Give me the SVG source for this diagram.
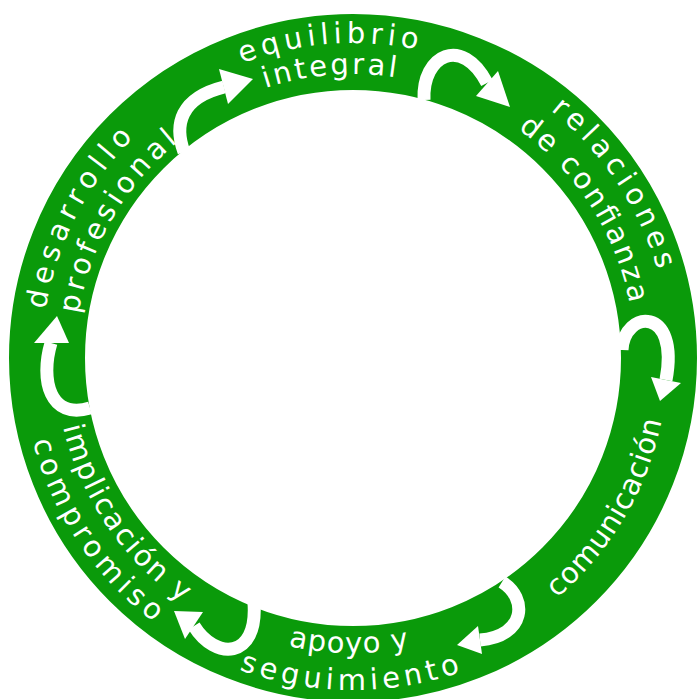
<svg xmlns="http://www.w3.org/2000/svg" width="697" height="699" viewBox="0 0 697 699">
<style>
.ring{fill:none;stroke:#0a9a0a;stroke-width:76}
.lbl{font-family:"DejaVu Sans","Liberation Sans",sans-serif;font-size:29px;fill:#ffffff}
.arr{fill:none;stroke:#ffffff;stroke-width:13;stroke-linecap:butt}
.head{fill:#ffffff}
</style>
<defs>
<path id="p-equilibrio" d="M49.5,273.8 A315,315 0 0 1 639.7,227.4"/>
<path id="p-integral" d="M79.1,283.1 A284,284 0 0 1 611.0,239.3"/>
<path id="p-relaciones" d="M277.4,50.2 A317,317 0 0 1 608.8,545.2"/>
<path id="p-confianza" d="M291.0,82.9 A282,282 0 0 1 577.3,528.9"/>
<path id="p-comunicacion" d="M295.0,667.6 A315,315 0 0 0 596.4,158.1"/>
<path id="p-apoyo" d="M74.3,454.8 A295,295 0 0 0 628.7,463.0"/>
<path id="p-seguimiento" d="M39.9,468.3 A332,332 0 0 0 663.8,474.8"/>
<path id="p-implicacion" d="M111.3,183.7 A298,298 0 0 0 426.1,646.9"/>
<path id="p-compromiso" d="M85.9,162.5 A331,331 0 0 0 431.9,679.4"/>
<path id="p-desarrollo" d="M125.5,570.1 A311,311 0 0 1 390.9,49.3"/>
<path id="p-profesional" d="M140.1,536.7 A278,278 0 0 1 401.3,84.2"/>
</defs>
<rect width="697" height="699" fill="#ffffff"/>
<circle class="ring" cx="353" cy="358" r="306"/>

<g id="equilibrio-integral">
<text class="lbl" text-anchor="middle"><textPath href="#p-equilibrio" startOffset="50%" textLength="178" lengthAdjust="spacing">equilibrio</textPath></text>
<text class="lbl" text-anchor="middle"><textPath href="#p-integral" startOffset="50%" textLength="132" lengthAdjust="spacing">integral</textPath></text>
</g>
<g id="relaciones-de-confianza">
<text class="lbl" text-anchor="middle"><textPath href="#p-relaciones" startOffset="50%" textLength="195" lengthAdjust="spacing">relaciones</textPath></text>
<text class="lbl" text-anchor="middle"><textPath href="#p-confianza" startOffset="50%" textLength="212" lengthAdjust="spacing">de confianza</textPath></text>
</g>
<g id="comunicacion">
<text class="lbl" text-anchor="middle"><textPath href="#p-comunicacion" startOffset="50%" textLength="210" lengthAdjust="spacing">comunicación</textPath></text>
</g>
<g id="apoyo-y-seguimiento">
<text class="lbl" text-anchor="middle"><textPath href="#p-apoyo" startOffset="50%" textLength="122" lengthAdjust="spacing">apoyo y</textPath></text>
<text class="lbl" text-anchor="middle"><textPath href="#p-seguimiento" startOffset="50%" textLength="226" lengthAdjust="spacing">seguimiento</textPath></text>
</g>
<g id="implicacion-y-compromiso">
<text class="lbl" text-anchor="middle"><textPath href="#p-implicacion" startOffset="50%" textLength="217" lengthAdjust="spacing">implicación y</textPath></text>
<text class="lbl" text-anchor="middle"><textPath href="#p-compromiso" startOffset="50%" textLength="222" lengthAdjust="spacing">compromiso</textPath></text>
</g>
<g id="desarrollo-profesional">
<text class="lbl" text-anchor="middle"><textPath href="#p-desarrollo" startOffset="50%" textLength="196" lengthAdjust="spacing">desarrollo</textPath></text>
<text class="lbl" text-anchor="middle"><textPath href="#p-profesional" startOffset="50%" textLength="203" lengthAdjust="spacing">profesional</textPath></text>
</g>

<g id="connectors">
<path class="arr" d="M184,152 C174,125 180,98 224,87"/>
<polygon class="head" points="253,79 219,69 228,104"/>
<path class="arr" d="M424,100 C422,55 462,35 487,83"/>
<polygon class="head" points="510,107 498,71 476,96"/>
<path class="arr" d="M622,350 C624,310 680,305 666,380"/>
<polygon class="head" points="660,401 651,377 681,383"/>
<path class="arr" d="M502,582 C528,598 526,636 480,640"/>
<polygon class="head" points="457,645 478,626 482,654"/>
<path class="arr" d="M254,603 C258,660 215,660 194,626"/>
<polygon class="head" points="174,611 203,612 185,639"/>
<path class="arr" d="M90,408 C50,420 40,380 51,343"/>
<polygon class="head" points="57,316 34,343 69,343"/>
</g>
</svg>
